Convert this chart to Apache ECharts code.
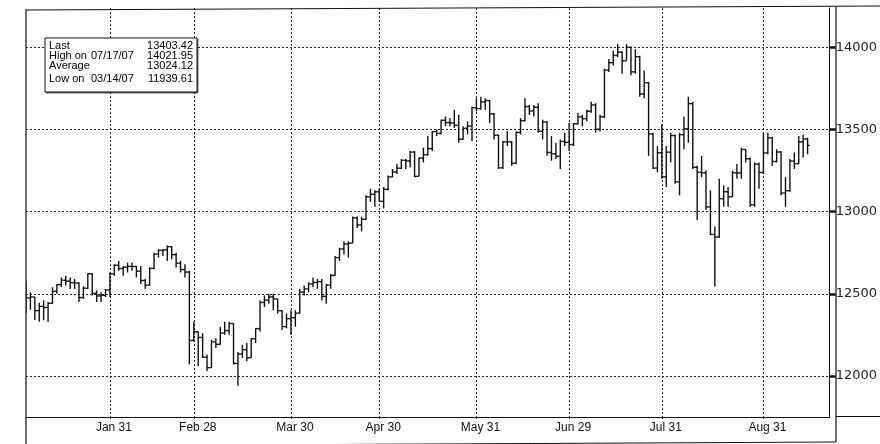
<!DOCTYPE html>
<html><head><meta charset="utf-8">
<script src="https://cdn.jsdelivr.net/npm/echarts@6/dist/echarts.min.js"></script>
<style>html,body{margin:0;padding:0;background:#fff}#c{width:880px;height:444px}</style>
</head><body><div id="c"></div>
<script>
// Trading days (2007) per month; last 5 September days are empty padding on the axis
const monthNames = ['Jan','Feb','Mar','Apr','May','Jun','Jul','Aug','Sep'];
const tradingDays = [
  [3,4,5,8,9,10,11,12,16,17,18,19,22,23,24,25,26,29,30,31],
  [1,2,5,6,7,8,9,12,13,14,15,16,20,21,22,23,26,27,28],
  [1,2,5,6,7,8,9,12,13,14,15,16,19,20,21,22,23,26,27,28,29,30],
  [2,3,4,5,9,10,11,12,13,16,17,18,19,20,23,24,25,26,27,30],
  [1,2,3,4,7,8,9,10,11,14,15,16,17,18,21,22,23,24,25,29,30,31],
  [1,4,5,6,7,8,11,12,13,14,15,18,19,20,21,22,25,26,27,28,29],
  [2,3,5,6,9,10,11,12,13,16,17,18,19,20,23,24,25,26,27,30,31],
  [1,2,3,6,7,8,9,10,13,14,15,16,17,20,21,22,23,24,27,28,29,30,31],
  [4,5,6,7,10,11,12,13,14,17,18,19,20,21,24]
];
const tickLabels = ['Jan 31','Feb 28','Mar 30','Apr 30','May 31','Jun 29','Jul 31','Aug 31'];
const yTickValues = [12000,12500,13000,13500,14000];

const openValues = [
  12463.15,12474.52,12480.69,12398.01,12423.49,12416.60,12442.16,12514.98,12556.08,12582.59,12577.15,12567.93,12565.53,12477.16,12533.80,12621.77,12502.56,12487.02,12490.78,12523.31,
  12621.69,12673.68,12653.49,12661.74,12666.87,12666.31,12637.63,12580.83,12552.55,12654.85,12741.86,12765.01,12767.57,12786.64,12738.41,12686.02,12647.48,12632.26,12216.24,
  12268.63,12234.34,12114.10,12050.41,12207.59,12192.45,12260.70,12276.32,12318.62,12075.96,12133.40,12159.68,12110.41,12226.17,12288.10,12447.52,12461.14,12481.01,12469.07,12397.29,12300.36,12348.75,
  12354.35,12382.30,12510.30,12530.05,12560.20,12569.14,12573.85,12484.62,12552.96,12612.13,12720.46,12773.04,12803.84,12808.63,12961.98,12919.40,12953.94,13089.89,13105.50,13120.94,
  13062.91,13136.14,13211.88,13241.38,13264.62,13312.97,13309.07,13362.87,13215.13,13326.22,13346.78,13383.84,13487.53,13476.72,13556.53,13542.88,13539.95,13525.65,13441.13,13507.28,13521.34,13633.08,
  13627.64,13668.11,13676.32,13595.46,13465.67,13266.73,13424.96,13424.39,13295.01,13482.35,13553.72,13639.48,13612.98,13635.42,13489.42,13545.84,13360.26,13352.05,13337.66,13427.73,13422.28,
  13408.62,13535.43,13577.30,13565.84,13611.68,13649.97,13501.70,13577.87,13861.73,13907.25,13950.98,13971.55,13918.22,14000.41,13851.08,13943.42,13716.95,13785.07,13473.57,13265.47,13358.31,
  13211.99,13362.37,13463.33,13181.91,13468.78,13504.30,13657.86,13270.68,13239.54,13236.53,13028.92,12861.47,12845.78,13079.08,13121.35,13090.86,13236.13,13235.88,13378.87,13322.13,13041.85,13289.29,13238.73,
  13357.74,13448.86,13305.47,13363.35,13113.38,13127.85,13308.39,13291.65,13424.88,13442.52
];
const highValues = [
  12580,12510,12481,12445,12460,12450,12540,12560,12600,12610,12600,12590,12570,12545,12625,12625,12520,12510,12530,12630,
  12680,12700,12670,12690,12690,12670,12670,12590,12660,12750,12770,12770,12795,12790,12750,12700,12680,12640,12330,
  12270,12260,12130,12220,12230,12300,12330,12330,12320,12145,12190,12200,12230,12290,12460,12490,12500,12500,12470,12400,12380,12400,
  12400,12530,12550,12570,12600,12590,12590,12560,12620,12730,12780,12820,12820,12970,12970,12970,13100,13140,13130,13140,
  13150,13220,13260,13290,13320,13320,13370,13370,13330,13390,13460,13490,13500,13560,13580,13570,13620,13590,13520,13550,13640,13690,
  13700,13690,13680,13600,13470,13430,13490,13430,13490,13570,13690,13650,13650,13660,13560,13550,13460,13420,13440,13480,13540,
  13540,13600,13590,13620,13670,13660,13590,13870,13930,13980,14021.95,13975,14020,14005,13990,13950,13860,13790,13480,13400,13530,
  13400,13480,13470,13480,13580,13700,13670,13280,13340,13250,13130,12910,13200,13160,13150,13250,13290,13390,13380,13330,13300,13300,13480,
  13480,13455,13380,13370,13210,13320,13360,13460,13470,13450
];
const lowValues = [
  12381,12403,12340,12330,12340,12330,12440,12500,12540,12550,12530,12530,12450,12470,12530,12490,12450,12450,12480,12480,
  12610,12640,12610,12630,12640,12600,12560,12530,12550,12650,12720,12730,12700,12710,12660,12630,12600,12070,12210,
  12060,12110,12030,12050,12170,12190,12250,12250,12070,11939.61,12110,12090,12110,12200,12270,12420,12440,12400,12380,12280,12290,12250,
  12300,12380,12490,12510,12540,12530,12460,12440,12530,12610,12700,12740,12720,12810,12900,12880,12950,13060,13030,13060,
  13020,13130,13210,13230,13260,13260,13270,13210,13215,13300,13340,13370,13460,13470,13520,13520,13510,13420,13440,13470,13430,13610,
  13620,13620,13540,13440,13260,13260,13400,13280,13290,13470,13550,13590,13580,13480,13440,13340,13310,13320,13260,13400,13370,
  13400,13530,13520,13550,13600,13480,13490,13570,13850,13890,13940,13840,13920,13830,13840,13700,13690,13340,13260,13240,13200,
  13150,13300,13170,13100,13380,13420,13260,12950,13210,13010,12858,12545,12840,13030,13030,13090,13200,13200,13300,13030,13030,13140,13230,
  13350,13280,13300,13100,13030,13120,13260,13290,13330,13350
];
const closeValues = [
  12474.52,12480.69,12398.01,12423.49,12416.60,12442.16,12514.98,12556.08,12582.59,12577.15,12567.93,12565.53,12477.16,12533.80,12621.77,12502.56,12487.02,12490.78,12523.31,12621.69,
  12673.68,12653.49,12661.74,12666.87,12666.31,12637.63,12580.83,12552.55,12654.85,12741.86,12765.01,12767.57,12786.64,12738.41,12686.02,12647.48,12632.26,12216.24,12268.63,
  12234.34,12114.10,12050.41,12207.59,12192.45,12260.70,12276.32,12318.62,12075.96,12133.40,12159.68,12110.41,12226.17,12288.10,12447.52,12461.14,12481.01,12469.07,12397.29,12300.36,12348.75,12354.35,
  12382.30,12510.30,12530.05,12560.20,12569.14,12573.85,12484.62,12552.96,12612.13,12720.46,12773.04,12803.84,12808.63,12961.98,12919.40,12953.94,13089.89,13105.50,13120.94,13062.91,
  13136.14,13211.88,13241.38,13264.62,13312.97,13309.07,13362.87,13215.13,13326.22,13346.78,13383.84,13487.53,13476.72,13556.53,13542.88,13539.95,13525.65,13441.13,13507.28,13521.34,13633.08,13627.64,
  13668.11,13676.32,13595.46,13465.67,13266.73,13424.96,13424.39,13295.01,13482.35,13553.72,13639.48,13612.98,13635.42,13489.42,13545.84,13360.26,13352.05,13337.66,13427.73,13422.28,13408.62,
  13535.43,13577.30,13565.84,13611.68,13649.97,13501.70,13577.87,13861.73,13907.25,13950.98,13971.55,13918.22,14000.41,13851.08,13943.42,13716.95,13785.07,13473.57,13265.47,13358.31,13211.99,
  13362.37,13463.33,13181.91,13468.78,13504.30,13657.86,13270.68,13239.54,13236.53,13028.92,12861.47,12845.78,13079.08,13121.35,13090.86,13236.13,13235.88,13378.87,13322.13,13041.85,13289.29,13238.73,13357.74,
  13448.86,13305.47,13363.35,13113.38,13127.85,13308.39,13291.65,13424.88,13442.52,13403.42
];

const legendLabels = ['Last','High on','Average','Low on'];
const legendDates = ['','07/17/07','','03/14/07'];
const legendValues = ['13403.42','14021.95','13024.12','11939.61'];

// build categories
const categories = [];
tradingDays.forEach((days, m) => days.forEach(d => categories.push(monthNames[m] + ' ' + d)));
const ohlc = closeValues.map((c, i) => [i, openValues[i], highValues[i], lowValues[i], c]);

const isMonthEnd = (idx, val) => tickLabels.indexOf(val) >= 0 || tickLabels.indexOf(categories[idx]) >= 0;
const INK = '#111';

function renderOHLC(params, api) {
  const x = api.value(0);
  const o = api.coord([x, api.value(1)]);
  const h = api.coord([x, api.value(2)]);
  const l = api.coord([x, api.value(3)]);
  const c = api.coord([x, api.value(4)]);
  const w = 2.2;
  const st = {stroke: INK, lineWidth: 1.4};
  return {type: 'group', children: [
    {type: 'line', shape: {x1: h[0], y1: h[1], x2: l[0], y2: l[1]}, style: st},
    {type: 'line', shape: {x1: o[0] - w, y1: o[1], x2: o[0], y2: o[1]}, style: st},
    {type: 'line', shape: {x1: c[0], y1: c[1], x2: c[0] + w, y2: c[1]}, style: st}
  ]};
}

const legendX = 45, legendY = 38, legendW = 152, legendH = 54;
const rowY = [45.5, 56, 66, 79];
const graphics = [
  {type: 'line', z: 100, shape: {x1: 26, y1: 10, x2: 880, y2: 6}, style: {stroke: INK, lineWidth: 1.2}},
  {type: 'line', z: 100, shape: {x1: 26, y1: 9, x2: 26, y2: 444}, style: {stroke: INK, lineWidth: 1.2}},
  {type: 'line', z: 100, shape: {x1: 836, y1: 6, x2: 836, y2: 442}, style: {stroke: INK, lineWidth: 1.2}},
  {type: 'line', z: 100, shape: {x1: 836, y1: 416.5, x2: 880, y2: 416.5}, style: {stroke: INK, lineWidth: 1}},
  {type: 'line', z: 100, shape: {x1: 26, y1: 446, x2: 836, y2: 442}, style: {stroke: INK, lineWidth: 1}},
  {type: 'rect', z: 100, shape: {x: legendX, y: legendY, width: legendW, height: legendH}, style: {fill: '#fff', stroke: INK, lineWidth: 1}},
  {type: 'line', z: 101, shape: {x1: legendX + 1, y1: legendY + legendH + 0.8, x2: legendX + legendW + 0.8, y2: legendY + legendH + 0.8}, style: {stroke: INK, lineWidth: 1}},
  {type: 'line', z: 101, shape: {x1: legendX + legendW + 0.8, y1: legendY + 1, x2: legendX + legendW + 0.8, y2: legendY + legendH + 0.8}, style: {stroke: INK, lineWidth: 1}}
];
legendLabels.forEach((t, i) => {
  const font = '11px "Liberation Sans", Arial, sans-serif';
  graphics.push({type: 'text', z: 102, x: 49, y: rowY[i], style: {text: t, font, fill: '#000', align: 'left', verticalAlign: 'middle'}});
  if (legendDates[i]) graphics.push({type: 'text', z: 102, x: 91, y: rowY[i], style: {text: legendDates[i], font, fill: '#000', align: 'left', verticalAlign: 'middle'}});
  graphics.push({type: 'text', z: 102, x: 193, y: rowY[i], style: {text: legendValues[i], font, fill: '#000', align: 'right', verticalAlign: 'middle'}});
});

const chart = echarts.init(document.getElementById('c'));
chart.setOption({
  animation: false,
  backgroundColor: '#fff',
  grid: {left: 26, right: 44, top: 8, bottom: 27},
  xAxis: {
    type: 'category', data: categories, boundaryGap: false,
    axisLine: {show: true, lineStyle: {color: INK, width: 1}},
    axisTick: {show: true, interval: isMonthEnd, length: 4, lineStyle: {color: INK, width: 1, type: [2, 2]}},
    axisLabel: {interval: isMonthEnd, color: INK, fontFamily: 'Liberation Sans', fontSize: 12, margin: 5, padding: [0, 0, 0, 8]},
    splitLine: {show: true, interval: isMonthEnd, lineStyle: {color: '#222', width: 1, type: [2, 2]}}
  },
  yAxis: {
    type: 'value', position: 'right', min: 11750, max: 14240, scale: true,
    axisLine: {show: true, lineStyle: {color: INK, width: 1}},
    axisTick: {show: true, customValues: yTickValues, length: 6, lineStyle: {color: INK, width: 2.5}},
    axisLabel: {customValues: yTickValues, formatter: v => String(v), color: '#222', fontFamily: 'DejaVu Sans', fontSize: 13, margin: 6},
    splitLine: {show: true, lineStyle: {color: '#222', width: 1, type: [2, 2]}}
  },
  series: [{
    type: 'custom', renderItem: renderOHLC, data: ohlc, z: 3, clip: true,
    encode: {x: 0, y: [1, 2, 3, 4]}
  }],
  graphic: graphics
});
</script></body></html>
